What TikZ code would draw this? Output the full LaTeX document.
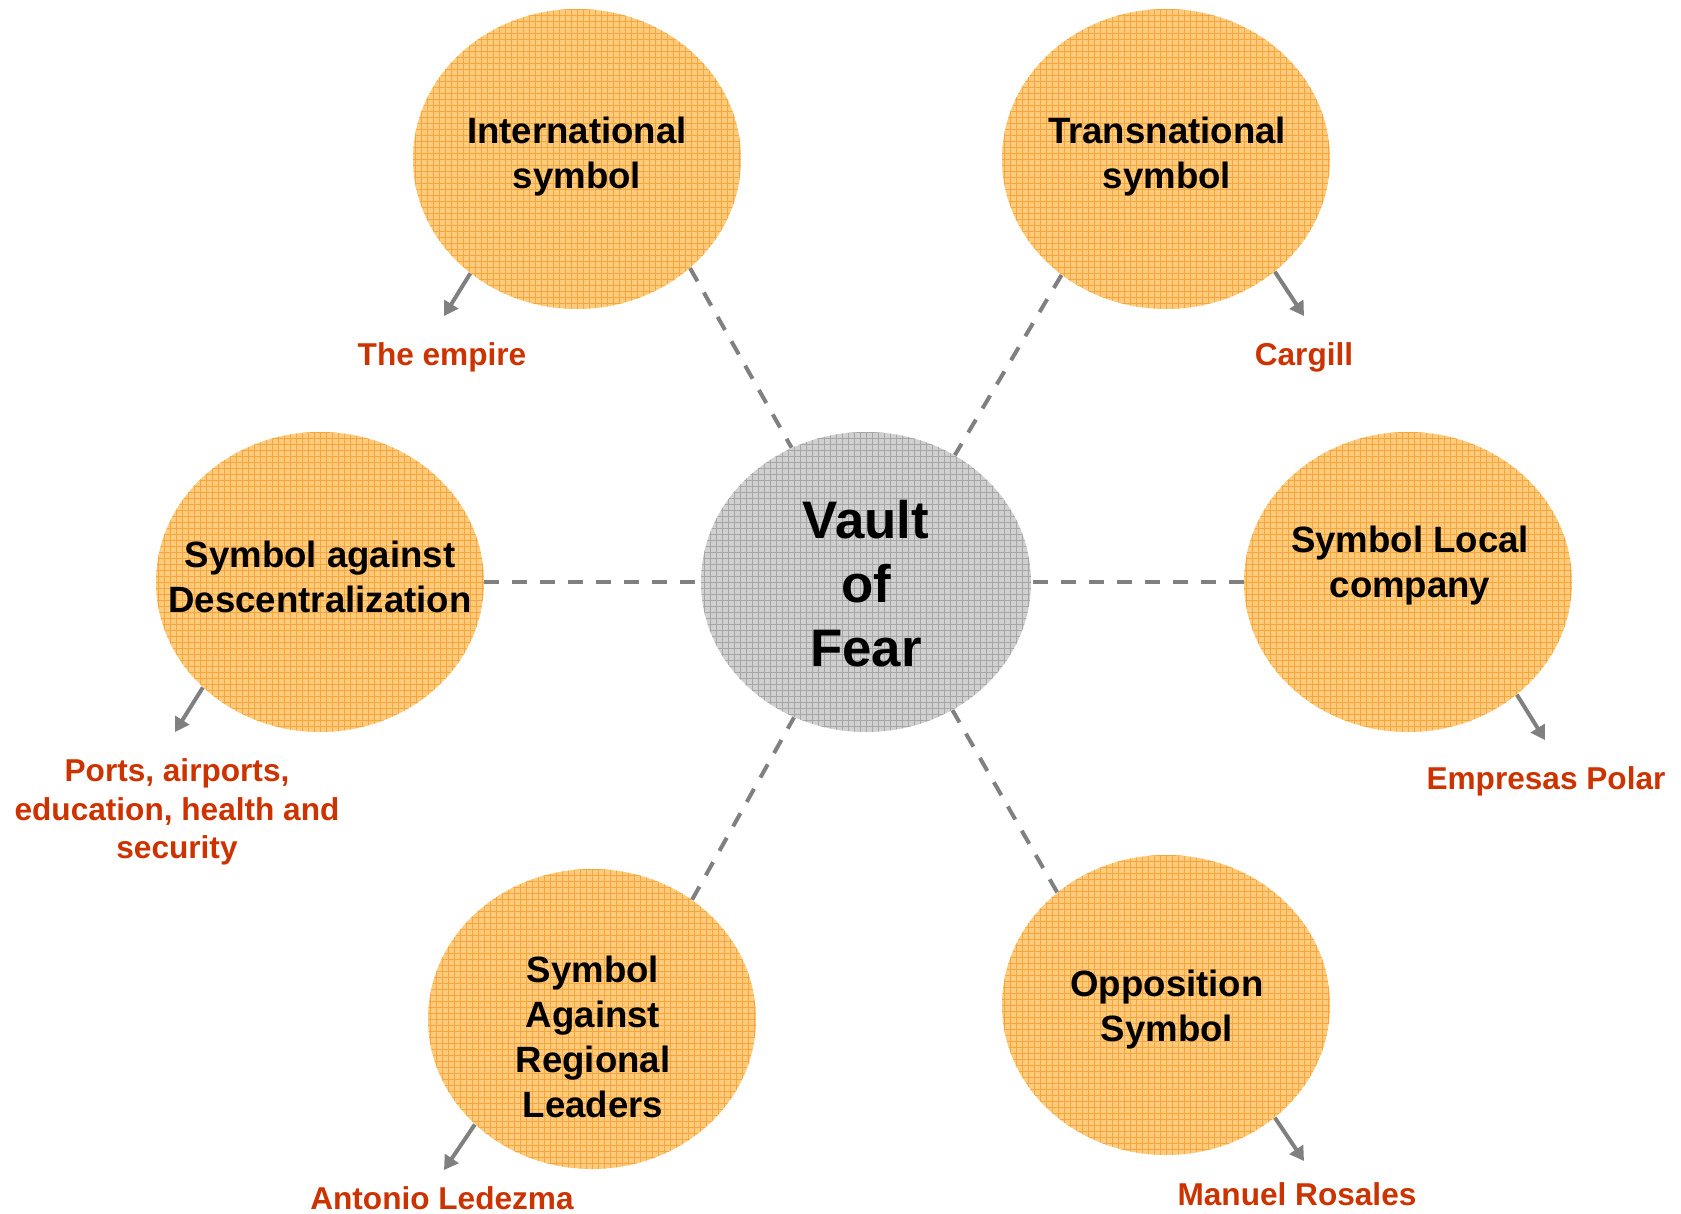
\documentclass[tikz,border=0pt]{standalone}
\usepackage{fontspec}
\setmainfont{Liberation Sans}
\usetikzlibrary{shapes.geometric,arrows.meta}

\definecolor{bubble}{HTML}{FDCB7C}
\definecolor{bubbleline}{HTML}{F7A53C}
\definecolor{vaultgrey}{HTML}{D0D0D0}
\definecolor{vaultline}{HTML}{A6A6A6}
\definecolor{namered}{HTML}{CC3300}

\begin{document}
\begin{tikzpicture}[x=0.5pt,y=-0.5pt]
    \tikzset{bubble/.style = {shape=ellipse, fill=bubble, inner sep=0pt, minimum width=164pt, minimum height=150pt,
        path picture={\draw[bubbleline, line width=0.45pt, step=3pt] (path picture bounding box.south west) grid (path picture bounding box.north east);}}}
    \tikzset{vaultbox/.style = {shape=ellipse, fill=vaultgrey, inner sep=0pt, minimum width=165pt, minimum height=150pt,
        path picture={\draw[vaultline, line width=0.45pt, step=3pt] (path picture bounding box.south west) grid (path picture bounding box.north east);}}}
    \tikzset{title/.style = {align=center, font=\fontsize{18.3}{22.5}\selectfont\bfseries}}
    \tikzset{who/.style = {align=center, text=namered, font=\fontsize{15.8}{19.3}\selectfont\bfseries}}
    \tikzset{link/.style = {draw=gray, line width=2pt, dash pattern=on 7.5pt off 6.5pt}}
    \tikzset{pointer/.style = {draw=gray, line width=2pt, -{Triangle[length=7pt,width=8pt]}}}

    \useasboundingbox (0,0) rectangle (1681,1214);

    % circles
    \node[vaultbox] (vault) at (866,582) {};
    \node[bubble] (intl) at (577,159) {};
    \node[bubble] (trans) at (1166,159) {};
    \node[bubble] (decent) at (320,582) {};
    \node[bubble] (local) at (1408,582) {};
    \node[bubble] (regional) at (592,1019) {};
    \node[bubble] (oppo) at (1166,1005) {};

    % circle texts
    \node[align=center, font=\fontsize{26.4}{32}\selectfont\bfseries] (vault-t) at (866,584) {Vault\\of\\Fear};
    \node[title] (intl-t) at (577,157) {International\\symbol};
    \node[title] (trans-t) at (1167,157) {Transnational\\symbol};
    \node[title] (decent-t) at (320,577) {Symbol against\\Descentralization};
    \node[title] (local-t) at (1410,566) {Symbol Local\\company};
    \node[title] (regional-t) at (593,1037) {Symbol\\Against\\Regional\\Leaders};
    \node[title] (oppo-t) at (1167,1010) {Opposition\\Symbol};

    % names
    \node[who] (empire) at (442,357) {The empire};
    \node[who] (cargill) at (1304,357) {Cargill};
    \node[who] (ports) at (177,812) {Ports, airports,\\education, health and\\security};
    \node[who] (polar) at (1546,781) {Empresas Polar};
    \node[who] (ledezma) at (442,1198) {Antonio Ledezma};
    \node[who] (rosales) at (1297,1194) {Manuel Rosales};

    % arrow tips
    \coordinate (empire-in) at (444,316);
    \coordinate (cargill-in) at (1304,316);
    \coordinate (ports-in) at (175,732);
    \coordinate (polar-in) at (1545,740);
    \coordinate (ledezma-in) at (444,1170);
    \coordinate (rosales-in) at (1304,1161);

    % links
    \draw[link] (intl.-44) -- (vault.119);
    \draw[link] (trans.-132) -- (vault.55);
    \draw[link] (decent.0) -- (vault.180);
    \draw[link] (local.180) -- (vault.0);
    \draw[link] (regional.50) -- (vault.242);
    \draw[link] (oppo.134) -- (vault.-56);

    % arrows
    \draw[pointer] (intl.-133) -- (empire-in);
    \draw[pointer] (trans.-46) -- (cargill-in);
    \draw[pointer] (decent.-138) -- (ports-in);
    \draw[pointer] (local.-46) -- (polar-in);
    \draw[pointer] (regional.-138) -- (ledezma-in);
    \draw[pointer] (oppo.-46) -- (rosales-in);
\end{tikzpicture}
\end{document}
